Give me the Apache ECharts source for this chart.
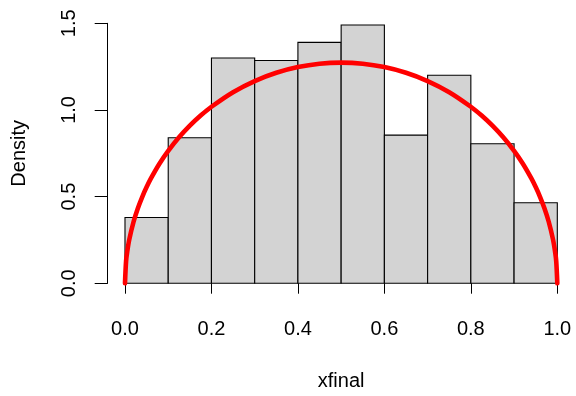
<!DOCTYPE html>
<html>
<head>
<meta charset="utf-8">
<style>
  html, body { margin: 0; padding: 0; background: #ffffff; }
  #chart { width: 576px; height: 396px; }
</style>
<script src="https://cdn.jsdelivr.net/npm/echarts@6/dist/echarts.min.js"></script>
</head>
<body>
<div id="chart"></div>
<script>
// Histogram bins of xfinal (left edges, width 0.1) and their densities
const binStarts = [0.0, 0.1, 0.2, 0.3, 0.4, 0.5, 0.6, 0.7, 0.8, 0.9];
const binWidth = 0.1;
const densities = [0.38, 0.84, 1.30, 1.285, 1.39, 1.49, 0.855, 1.20, 0.805, 0.465];

// Overlaid density curve (semicircle on [0, 1])
const curveX = [0, 0.0025, 0.005, 0.01, 0.02, 0.03, 0.04, 0.05, 0.06, 0.08, 0.1,
  0.125, 0.15, 0.175, 0.2, 0.25, 0.3, 0.35, 0.4, 0.45, 0.5,
  0.55, 0.6, 0.65, 0.7, 0.75, 0.8, 0.825, 0.85, 0.875, 0.9,
  0.92, 0.94, 0.95, 0.96, 0.97, 0.98, 0.99, 0.995, 0.9975, 1];
const curveY = [0, 0.1272, 0.1796, 0.2534, 0.3565, 0.4344, 0.4990, 0.5550, 0.6048, 0.6908, 0.7639,
  0.8422, 0.9093, 0.9676, 1.0186, 1.1027, 1.1669, 1.2146, 1.2475, 1.2669, 1.2732,
  1.2669, 1.2475, 1.2146, 1.1669, 1.1027, 1.0186, 0.9676, 0.9093, 0.8422, 0.7639,
  0.6908, 0.6048, 0.5550, 0.4990, 0.4344, 0.3565, 0.2534, 0.1796, 0.1272, 0];

// Axis ticks
const xTicks = [0.0, 0.2, 0.4, 0.6, 0.8, 1.0];
const yTicks = [0.0, 0.5, 1.0, 1.5];

const FONT = "'Liberation Sans', Arial, Helvetica, sans-serif";

const chart = echarts.init(document.getElementById('chart'), null, { renderer: 'canvas' });

const barData = binStarts.map((s, i) => [s, s + binWidth, densities[i]]);
const curveData = curveX.map((x, i) => [x, curveY[i]]);

const option = {
  backgroundColor: '#ffffff',
  animation: false,
  textStyle: { fontFamily: FONT, color: '#000' },
  grid: [
    // plotting region (range padded by 4% on each side)
    { left: 107.7, right: 1.4, top: 12.9, bottom: 102.3 },
    // x axis drawn over [0, 1] only
    { left: 125, right: 18.7, top: 12.9, bottom: 102.3 },
    // y axis drawn over [0, 1.5] only
    { left: 107.7, right: 1.4, top: 23.3, bottom: 112.7 }
  ],
  xAxis: [
    { gridIndex: 0, type: 'value', min: -0.04, max: 1.04, show: false },
    {
      gridIndex: 1, type: 'value', min: xTicks[0], max: xTicks[xTicks.length - 1], interval: 0.2,
      position: 'bottom',
      axisLine: { show: true, lineStyle: { color: '#000', width: 1 } },
      axisTick: { show: true, length: 13, lineStyle: { color: '#000', width: 1 } },
      splitLine: { show: false },
      axisLabel: {
        fontSize: 20, color: '#000', fontFamily: FONT, margin: 28,
        formatter: v => v.toFixed(1), showMinLabel: true, showMaxLabel: true
      },
      name: 'xfinal', nameLocation: 'middle', nameGap: 80,
      nameTextStyle: { fontSize: 20, color: '#000', fontFamily: FONT }
    },
    { gridIndex: 2, type: 'value', min: 0, max: 1, show: false }
  ],
  yAxis: [
    { gridIndex: 0, type: 'value', min: -0.06, max: 1.56, show: false },
    { gridIndex: 1, type: 'value', min: -0.06, max: 1.56, show: false },
    {
      gridIndex: 2, type: 'value', min: yTicks[0], max: yTicks[yTicks.length - 1], interval: 0.5,
      position: 'left',
      axisLine: { show: true, lineStyle: { color: '#000', width: 1 } },
      axisTick: { show: true, length: 13, lineStyle: { color: '#000', width: 1 } },
      splitLine: { show: false },
      axisLabel: {
        fontSize: 20, color: '#000', fontFamily: FONT, margin: 28, rotate: 90,
        formatter: v => v.toFixed(1), showMinLabel: true, showMaxLabel: true
      },
      name: 'Density', nameLocation: 'middle', nameGap: 78, nameRotate: 90,
      nameTextStyle: { fontSize: 20, color: '#000', fontFamily: FONT }
    }
  ],
  series: [
    {
      type: 'custom',
      xAxisIndex: 0,
      yAxisIndex: 0,
      data: barData,
      encode: { x: [0, 1], y: 2 },
      renderItem: function (params, api) {
        const p0 = api.coord([api.value(0), 0]);
        const p1 = api.coord([api.value(1), api.value(2)]);
        return {
          type: 'rect',
          shape: { x: p0[0], y: p1[1], width: p1[0] - p0[0], height: p0[1] - p1[1] },
          style: { fill: '#d3d3d3', stroke: '#000000', lineWidth: 1.1 }
        };
      },
      z: 1
    },
    {
      type: 'line',
      xAxisIndex: 0,
      yAxisIndex: 0,
      data: curveData,
      smooth: 0.3,
      symbol: 'none',
      lineStyle: { color: '#ff0000', width: 4.6, cap: 'round', join: 'round' },
      z: 3
    }
  ]
};

chart.setOption(option);
</script>
</body>
</html>
